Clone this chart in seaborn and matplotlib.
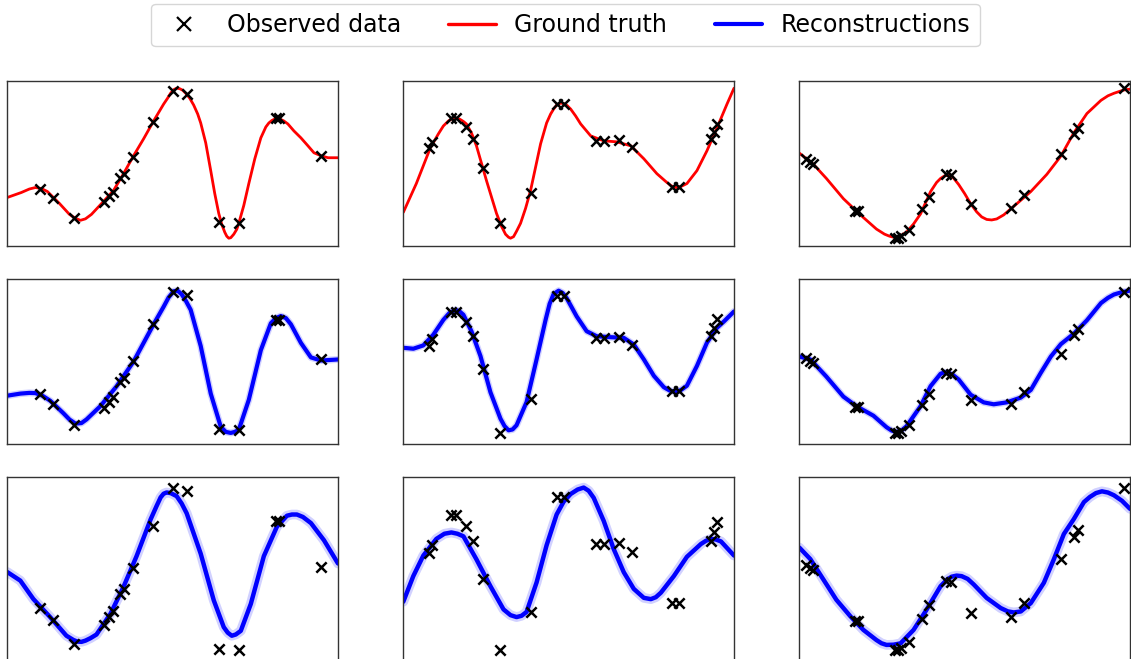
import matplotlib

matplotlib.use("Agg")
import matplotlib.pyplot as plt
from matplotlib.lines import Line2D
import seaborn as sns

# Observed points (shared by the three rows of a column)
obs1_x = [33, 46, 67, 96, 101, 105, 112, 116, 125, 145, 165, 179, 211, 231, 268, 271, 313]
obs1_y = [62, 52, 32, 48, 54, 59, 73, 77, 94, 129, 160, 157, 28, 27, 133, 133, 95]
obs2_x = [26, 29, 48, 53, 63, 70, 80, 96, 127, 153, 160, 192, 200, 215, 228, 268, 275, 307, 310, 313]
obs2_y = [103, 109, 133, 133, 124, 112, 83, 27, 57, 147, 147, 110, 110, 111, 104, 64, 64, 112, 119, 127]
obs3_x = [7, 11, 14, 56, 59, 95, 98, 101, 109, 122, 129, 146, 151, 171, 211, 224, 261, 274, 278, 324]
obs3_y = [92, 89, 87, 41, 41, 14, 14, 16, 22, 43, 55, 77, 76, 48, 44, 57, 97, 117, 123, 162]

# Ground truth curves (top row)
truth1_x = [0, 14, 22, 28, 34, 40, 46, 52, 62, 68, 73, 78, 84, 96, 106, 116, 126, 136, 146, 156,
            160, 163, 166, 169, 172, 175, 178, 182, 186, 190, 193, 198, 203, 207, 211, 214, 217, 219,
            221, 223, 226, 229, 231, 236, 241, 247, 253, 258, 261, 264, 267, 270, 273, 276, 280, 286,
            293, 300, 306, 313, 320, 330]
truth1_y = [53, 58, 61.5, 63, 62, 59, 53, 47, 36, 32, 30, 31.5, 36, 49, 60, 77, 95, 112, 130, 147,
            153, 158, 161.5, 163, 162.5, 161, 158, 153, 146, 137, 128, 108, 80, 57, 37, 26, 18, 14,
            12, 12.5, 16, 21, 27, 45, 67, 92, 113, 124, 128, 130.5, 132, 132.5, 131.5, 130, 127, 120,
            113, 105, 98, 95, 93, 93]
truth2_x = [0, 13, 27, 35, 40, 45, 49, 52, 56, 60, 63, 68, 73, 83, 93, 98, 102, 105, 107, 110,
            113, 117, 122, 127, 137, 143, 147, 150, 153, 157, 160, 163, 167, 172, 177, 187, 200, 213,
            227, 240, 253, 262, 267, 270, 273, 277, 283, 293, 303, 313, 323, 330]
truth2_y = [38, 67, 103, 117, 125, 130, 132.5, 133, 132, 129.5, 127, 118, 105, 70, 37, 24, 16, 13, 12,
            13.5, 19, 27, 42, 60, 107, 128, 137, 142, 146, 148, 147.5, 146, 142, 135, 127, 115, 110,
            109, 105, 92, 77, 69, 65, 63.5, 63, 64, 67, 80, 100, 123, 147, 163]
truth3_x = [0, 14, 27, 44, 61, 77, 85, 90, 94, 98, 102, 107, 114, 121, 131, 137, 141, 145, 149, 153,
            159, 165, 171, 177, 182, 187, 192, 197, 204, 217, 231, 247, 261, 274, 287, 301, 308, 314,
            320, 325, 330]
truth3_y = [98, 87, 73, 53, 37, 23, 18, 16, 15, 15.5, 17, 20, 28, 38, 60, 69, 73, 75.5, 76, 74.5,
            67, 58, 48, 40, 35, 32.5, 32, 33, 37, 48, 60, 77, 95, 118, 137, 150, 154.5, 157,
            159, 160.5, 161]

# Reconstructions, middle row
recA1_x = [0, 13, 22, 28, 35, 43, 56, 62, 68, 74, 79, 93, 109, 126, 146, 156, 161, 166, 170, 174,
           178, 183, 193, 203, 213, 218, 223, 227, 231, 241, 253, 263, 268, 273, 278, 283, 293, 303,
           313, 330]
recA1_y = [60, 62, 62.7, 62.5, 60, 55, 43, 37, 33, 33.5, 37, 50, 69, 93, 129, 146, 155, 161, 161.5,
           158, 152, 143, 108, 62, 30, 25, 24, 25, 27, 56, 104, 130, 135, 137, 135, 129, 111, 97,
           94, 95]
recA2_x = [0, 10, 20, 30, 40, 46, 52, 56, 60, 68, 77, 87, 97, 101, 105, 109, 113, 123, 133, 142,
           146, 150, 155, 159, 163, 173, 183, 193, 207, 220, 230, 240, 250, 260, 266, 272, 277, 283,
           293, 303, 313, 320, 330]
recA2_y = [101.5, 100.7, 103.6, 113, 126, 132, 134.7, 133.5, 130.4, 116, 94.3, 62.5, 39.4, 33, 29.3,
           30, 33.7, 54, 91.4, 126, 140, 148.6, 151.5, 149.5, 145, 129, 116, 111.6, 110.8, 110.2,
           104.4, 91.4, 77, 67, 64, 63, 64.5, 68.3, 85.6, 106, 119, 124.6, 133.3]
recA3_x = [0, 11, 27, 44, 57, 74, 87, 92, 97, 102, 107, 121, 131, 141, 145, 149, 153, 159, 171, 184,
           194, 207, 221, 231, 241, 251, 261, 274, 287, 301, 308, 314, 322, 330]
recA3_y = [94, 91, 73, 52, 42, 32, 20, 16.5, 15, 16.5, 21, 42, 63, 76, 77.5, 77, 75, 70, 54, 46,
           44, 46, 51, 59, 77, 94, 107, 118, 132, 150, 155.5, 159, 161.5, 163]

# Reconstructions, bottom row
recB1_x = [0, 13, 26, 43, 59, 66, 70, 74, 78, 83, 89, 103, 116, 129, 143, 149, 153, 156, 159, 163,
           169, 174, 179, 193, 206, 216, 220, 224, 228, 233, 243, 256, 269, 279, 284, 289, 295, 303,
           316, 330]
recB1_y = [91, 84, 69, 54, 39, 35.5, 34.2, 34, 35, 37, 40, 57, 79, 104, 134, 145, 152, 155, 156,
           155.5, 153, 147, 139, 106, 68, 46, 41.5, 39, 40, 43, 65, 104, 128, 137, 138, 138, 136,
           131, 117, 98]
recB2_x = [0, 10, 20, 33, 41, 48, 54, 60, 73, 87, 100, 107, 113, 118, 123, 133, 143, 153, 160, 167,
           174, 180, 185, 190, 200, 210, 220, 230, 240, 247, 252, 257, 270, 283, 297, 302, 307, 312,
           317, 330]
recB2_y = [65, 85, 101, 114, 118, 119, 118, 116, 98, 77, 59, 54.5, 53, 54, 57, 80, 109, 133, 143,
           149, 152.5, 154, 151.5, 146, 128, 106, 88, 75, 68, 67, 68.5, 72, 85, 100, 110, 112.5,
           114, 113.5, 112, 101]
recB3_x = [0, 11, 24, 37, 51, 64, 77, 82, 87, 94, 101, 114, 127, 141, 147, 152, 157, 162, 168, 174,
           187, 201, 208, 214, 221, 231, 244, 254, 264, 274, 284, 290, 296, 302, 308, 314, 322, 330]
recB3_y = [107.5, 97, 78.5, 60, 45, 32.6, 23.4, 20.5, 19, 19.2, 20.4, 32.6, 51, 72.4, 78, 81, 82,
           81.5, 79, 74, 61.7, 52.5, 49.5, 48.5, 49.4, 57, 75.4, 96.8, 119.8, 133.5, 148.8, 153.5,
           157, 158.6, 157.5, 155, 150, 142.7]

sns.set_style("white", {"axes.edgecolor": "0.2"})
plt.rcParams["font.family"] = ["DejaVu Sans"]
plt.rcParams["axes.linewidth"] = 1.0

W, H = 1131, 659
fig = plt.figure(figsize=(W / 100, H / 100), dpi=100)

col_left = [7.3, 403.3, 799.3]
col_width = 330.7
row_span = [(80.7, 245.7), (279.3, 444.3), (477.0, 661.0)]

observed = [(obs1_x, obs1_y), (obs2_x, obs2_y), (obs3_x, obs3_y)]
rows = [
    [(truth1_x, truth1_y), (truth2_x, truth2_y), (truth3_x, truth3_y)],
    [(recA1_x, recA1_y), (recA2_x, recA2_y), (recA3_x, recA3_y)],
    [(recB1_x, recB1_y), (recB2_x, recB2_y), (recB3_x, recB3_y)],
]
# colour, main width, halo width, y margin
row_style = [("red", 2.0, 0, 0.05), ("blue", 3.0, 5.0, 0.08), ("blue", 3.2, 7.0, 0.065)]

for r, (top, bottom) in enumerate(row_span):
    color, lw, halo, ym = row_style[r]
    for c in range(3):
        ax = fig.add_axes([col_left[c] / W, 1 - bottom / H, col_width / W, (bottom - top) / H])
        cx, cy = rows[r][c]
        ox, oy = observed[c]
        if halo:
            sns.lineplot(x=cx, y=cy, ax=ax, color=color, lw=halo, alpha=0.18,
                         sort=False, estimator=None)
        sns.lineplot(x=cx, y=cy, ax=ax, color=color, lw=lw, sort=False, estimator=None)
        sns.scatterplot(x=ox, y=oy, ax=ax, marker="x", color="black", s=55,
                        linewidth=1.8, zorder=3)
        ax.set_xticks([])
        ax.set_yticks([])
        ax.set(xlabel=None, ylabel=None)
        ax.margins(x=0, y=ym)

handles = [
    Line2D([], [], marker="x", ls="none", color="black", ms=10, mew=1.6),
    Line2D([], [], color="red", lw=2.4),
    Line2D([], [], color="blue", lw=3.0),
]
fig.legend(handles, ["Observed data", "Ground truth", "Reconstructions"],
           loc="upper center", bbox_to_anchor=(0.5, 1.0), ncol=3, fontsize=17,
           frameon=True, fancybox=True, edgecolor="0.8", borderaxespad=0.15,
           handlelength=2.0, columnspacing=2.0, labelcolor="black")

fig.savefig("out.png", dpi=100)
